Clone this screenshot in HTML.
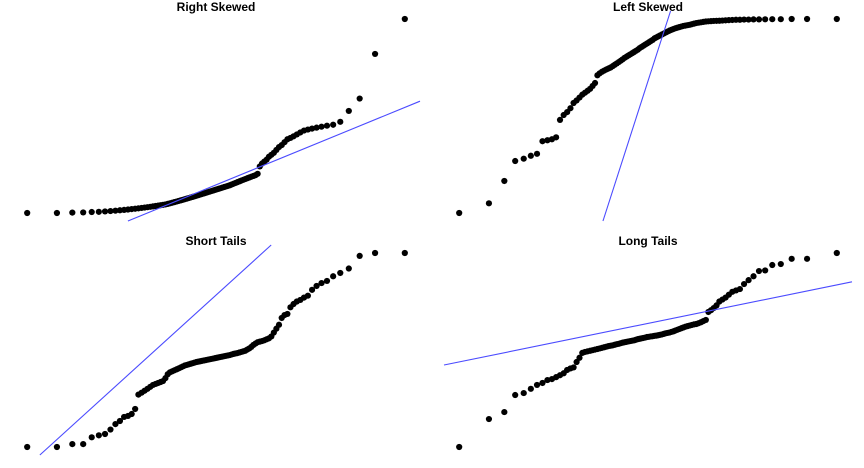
<!DOCTYPE html>
<html><head><meta charset="utf-8"><style>
html,body{margin:0;padding:0;background:#fff;width:864px;height:468px;overflow:hidden;}
svg{display:block;}
text{font-family:"Liberation Sans",Arial,sans-serif;font-weight:bold;font-size:12px;fill:#000;}
</style></head><body>
<svg id="chart" width="864" height="468" viewBox="0 0 864 468" overflow="hidden"></svg>
<script>
const panelTitles = ["Right Skewed","Left Skewed","Short Tails","Long Tails"];
const rightSkewed = [0,0,0.2,0.3,0.5,0.6,0.8,1,1.2,1.4,1.6,1.8,2,2.2,2.4,2.6,2.8,3,3.2,3.4,3.6,3.8,4,4.2,4.4,4.7,5,5.3,5.6,5.9,6.2,6.5,6.8,7.1,7.4,7.7,8,8.3,8.6,8.9,9.2,9.5,9.8,10.1,10.4,10.7,11,11.3,11.6,11.9,12.2,12.5,12.8,13.1,13.4,13.7,14,14.3,14.7,15.1,15.5,15.9,16.3,16.7,17.1,17.5,17.9,18.3,18.7,19.1,19.5,20.2,24,25.5,26.5,27.5,29,30,31,32.5,34,35,36.5,38,38.7,39.5,40.5,41.5,42.5,43,43.5,44,44.5,45,45.5,47,52.6,59,82,100];
const leftSkewed = [0,5,16.5,26.8,28,29.5,30.5,37,37.5,38,39,48,50.5,52,54,56.7,58,59.5,61,62,63,64,65.5,67,71,72,72.8,73.4,74,74.5,75,75.7,76.4,77.1,77.8,78.5,79.2,80,80.6,81.2,81.8,82.4,83,83.6,84.2,85,85.6,86.2,86.8,87.4,88,88.6,89.2,90,90.5,91,91.5,92,92.5,93,93.5,94,94.4,94.8,95.2,95.5,95.8,96.1,96.4,96.6,96.8,97,97.3,97.6,97.9,98.1,98.3,98.5,98.7,98.8,98.9,99,99.05,99.1,99.2,99.3,99.4,99.5,99.6,99.6,99.7,99.7,99.8,99.8,99.85,99.9,99.9,100,100,100];
const shortTails = [0,0,1.5,1.5,5,6,6.7,9,11.8,13.4,15.5,16,17,19.6,27,28,29,30,31,32,32.5,33,33.5,34,35.5,37.5,38.5,39,39.5,40,40.5,41,41.5,42,42.3,42.6,42.9,43.2,43.5,43.8,44,44.2,44.4,44.6,44.8,45,45.2,45.4,45.6,45.8,46,46.2,46.4,46.6,46.8,47,47.2,47.4,47.7,48,48.2,48.4,48.7,49,49.3,49.6,50.2,50.8,51.6,52.6,53.3,54,54.3,54.6,55,55.5,56,57,59,61,63,66.5,68,68.6,72,73.7,75,75.8,77,78,81,83,84.5,85.6,88,89.7,92,98.5,100,100];
const longTails = [0,14.4,18,26.8,27.8,30,32,33,34.5,35,36,37,38,39.7,40.5,41,43.8,46,48.5,49,49.3,49.6,49.9,50.2,50.5,50.8,51.1,51.4,51.7,52,52.2,52.4,52.7,53,53.2,53.5,53.8,54,54.2,54.4,54.6,54.8,55,55.3,55.6,55.8,56,56.2,56.4,56.7,56.8,57,57.1,57.3,57.4,57.6,57.8,58,58.3,58.6,58.8,59,59.3,59.6,60,60.4,60.8,61.2,61.6,62,62.3,62.6,62.9,63.2,63.4,63.8,64.3,64.9,65.5,69.6,70.5,71.6,73,75,76,77,78.5,80,80.7,81.4,84,86,88,90.7,91,93.8,94.3,97,97,100];
const lineIntercepts = [14.5, 68.0, 78.3, 63.7];
const lineSlopes = [15.5, 117.4, 34.3, 7.7];

const NS="http://www.w3.org/2000/svg";
const svg=document.getElementById('chart');
function mk(t,a){const e=document.createElementNS(NS,t);for(const k in a)e.setAttribute(k,a[k]);return e;}
function qnorm(p){const a=[-39.6968302866538,220.946098424521,-275.928510446969,138.357751867269,-30.6647980661472,2.50662827745924],b=[-54.4760987982241,161.585836858041,-155.698979859887,66.8013118877197,-13.2806815528857],c=[-0.00778489400243029,-0.322396458041136,-2.40075827716184,-2.54973253934373,4.37466414146497,2.93816398269878],d=[0.00778469570904146,0.32246712907004,2.445134137143,3.75440866190742];let q,r;
if(p<0.02425){q=Math.sqrt(-2*Math.log(p));return(((((c[0]*q+c[1])*q+c[2])*q+c[3])*q+c[4])*q+c[5])/((((d[0]*q+d[1])*q+d[2])*q+d[3])*q+1);}
if(p>1-0.02425){q=Math.sqrt(-2*Math.log(1-p));return-(((((c[0]*q+c[1])*q+c[2])*q+c[3])*q+c[4])*q+c[5])/((((d[0]*q+d[1])*q+d[2])*q+d[3])*q+1);}
q=p-0.5;r=q*q;return(((((a[0]*r+a[1])*r+a[2])*r+a[3])*r+a[4])*r+a[5])*q/(((((b[0]*r+b[1])*r+b[2])*r+b[3])*r+b[4])*r+1);}

const series=[rightSkewed,leftSkewed,shortTails,longTails];
const defs=mk('defs',{});svg.appendChild(defs);
series.forEach((vals,k)=>{
  const ox=(k%2)*432, oy=Math.floor(k/2)*234;
  const xS=z=>ox+216+73.3*z;
  const zX=x=>(x-ox-216)/73.3;
  const yS=v=>oy+213-1.94*v;
  const g=mk('g',{});
  
  
  svg.appendChild(g);
  const t=mk('text',{x:ox+216,y:oy+11,'text-anchor':'middle'});
  
  
  t.textContent=panelTitles[k];g.appendChild(t);
  const n=vals.length;
  const pg=mk('g',{});
  
  
  g.appendChild(pg);
  vals.forEach((v,i)=>{
    const z=qnorm((i+0.5)/n);
    const c=mk('circle',{cx:xS(z).toFixed(2),cy:yS(v).toFixed(2),r:3.1,fill:'#000'});
    
    
    pg.appendChild(c);
  });
  // clip the line analytically to the plot region
  const xmin=ox+12,xmax=ox+420,ytop=oy+11,ybot=oy+221;
  const a=lineIntercepts[k],b=lineSlopes[k];
  const vTop=(oy+213-ytop)/1.94, vBot=(oy+213-ybot)/1.94;
  let za=zX(xmin), zb=zX(xmax);
  const zAtBot=(vBot-a)/b, zAtTop=(vTop-a)/b;
  const zlo=Math.min(zAtBot,zAtTop), zhi=Math.max(zAtBot,zAtTop);
  za=Math.max(za,zlo); zb=Math.min(zb,zhi);
  const ln=mk('line',{x1:xS(za).toFixed(2),y1:yS(a+b*za).toFixed(2),x2:xS(zb).toFixed(2),y2:yS(a+b*zb).toFixed(2),stroke:'#4b4bff','stroke-width':1.1});
  
  
  g.appendChild(ln);
});
</script>
</body></html>
